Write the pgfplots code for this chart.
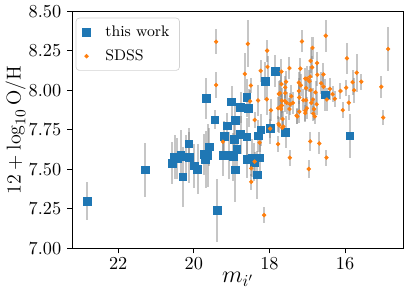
\documentclass[border=0pt]{standalone}
\usepackage{pgfplots}
\usepackage{pgfplotstable}
\pgfplotsset{compat=1.18}
\definecolor{tabblue}{HTML}{1F77B4}
\definecolor{taborange}{HTML}{FF7F0E}
\pgfplotstableread{
x y e
22.82 7.297 0.12
21.29 7.496 0.17
20.57 7.540 0.13
20.51 7.576 0.14
20.44 7.566 0.13
20.34 7.592 0.16
20.29 7.453 0.19
20.20 7.579 0.14
20.13 7.662 0.10
20.12 7.574 0.16
19.99 7.523 0.14
19.90 7.502 0.16
19.73 7.596 0.13
19.69 7.563 0.18
19.63 7.587 0.20
19.59 7.643 0.12
19.67 7.951 0.13
19.44 7.813 0.06
19.38 7.239 0.20
19.22 7.587 0.13
19.20 7.707 0.10
19.11 7.776 0.08
19.07 7.587 0.15
19.00 7.928 0.10
18.93 7.690 0.10
18.95 7.579 0.15
18.90 7.810 0.10
18.90 7.496 0.20
18.86 7.626 0.12
18.76 7.891 0.10
18.76 7.720 0.12
18.60 7.954 0.12
18.60 7.706 0.12
18.55 7.887 0.12
18.58 7.562 0.12
18.46 7.571 0.12
18.40 7.545 0.12
18.25 7.572 0.10
18.32 7.465 0.15
18.30 7.712 0.10
18.23 7.750 0.10
18.11 8.058 0.12
17.98 7.760 0.10
17.85 8.121 0.10
17.57 7.736 0.10
16.52 7.972 0.10
15.87 7.713 0.14
}\thiswork
\pgfplotstableread{
x y e
19.41 8.308 0.08
19.41 8.034 0.08
18.57 8.295 0.15
18.65 8.104 0.13
18.49 8.031 0.05
18.06 8.252 0.07
18.05 8.149 0.07
18.23 8.124 0.07
18.07 7.944 0.10
17.96 7.874 0.07
18.39 7.813 0.05
18.30 7.936 0.10
18.51 7.931 0.07
17.68 8.119 0.08
17.68 8.040 0.08
17.72 7.983 0.08
17.67 7.935 0.08
17.70 7.899 0.08
17.56 8.055 0.07
17.58 8.019 0.07
17.58 7.983 0.07
17.65 7.819 0.05
17.74 7.779 0.05
17.47 8.141 0.07
17.42 7.963 0.07
17.38 7.921 0.07
17.47 7.882 0.07
17.14 8.310 0.07
17.18 8.138 0.07
17.22 7.996 0.08
17.21 7.955 0.08
17.21 7.865 0.07
17.26 7.835 0.05
17.00 8.074 0.08
16.94 8.058 0.07
16.92 8.087 0.07
16.86 8.269 0.07
16.91 8.187 0.08
16.74 8.173 0.07
16.87 8.146 0.07
16.73 8.099 0.07
16.78 7.988 0.07
16.85 7.942 0.07
17.03 7.938 0.08
17.01 7.887 0.07
17.05 7.871 0.07
16.82 7.882 0.07
16.80 7.835 0.05
16.75 7.912 0.07
16.57 8.101 0.07
16.63 8.045 0.07
16.57 8.023 0.07
16.51 8.346 0.10
16.48 7.942 0.07
16.33 7.976 0.05
16.27 7.947 0.05
16.12 7.996 0.05
15.97 8.017 0.05
15.90 7.922 0.05
16.06 7.875 0.05
15.95 8.203 0.10
15.69 8.112 0.12
15.80 8.052 0.08
15.57 8.055 0.05
15.76 8.001 0.08
15.04 8.023 0.07
14.86 8.262 0.14
14.99 7.828 0.05
17.75 7.978 0.08
17.54 7.921 0.07
17.45 7.912 0.07
17.22 8.049 0.07
17.17 8.032 0.07
17.03 8.015 0.07
17.10 7.938 0.07
17.05 8.074 0.07
16.91 8.002 0.07
16.89 7.921 0.07
17.59 7.933 0.07
17.67 7.904 0.07
17.77 7.887 0.07
17.69 7.882 0.07
17.76 7.788 0.05
17.63 7.771 0.05
17.28 7.840 0.05
17.05 7.856 0.05
16.84 7.853 0.05
16.40 8.010 0.07
19.23 7.675 0.06
18.26 7.669 0.06
18.39 7.549 0.06
18.48 7.506 0.05
18.48 7.421 0.05
17.98 7.758 0.06
17.66 7.763 0.05
17.77 7.660 0.05
16.92 7.677 0.06
16.68 7.664 0.07
17.46 7.574 0.05
16.49 7.574 0.05
16.96 7.502 0.06
18.14 7.210 0.05
}\sdss
\begin{document}
\begin{tikzpicture}
\begin{axis}[
  scale only axis,
  width=199pt, height=142pt,
  x dir=reverse,
  xmin=14.44, xmax=23.22,
  ymin=7, ymax=8.5,
  xtick={16,18,20,22},
  ytick={7,7.25,7.5,7.75,8,8.25,8.5},
  yticklabel style={/pgf/number format/.cd,fixed,fixed zerofill,precision=2},
  tick align=outside,
  xtick pos=bottom, ytick pos=left,
  major tick length=3pt,
  tick style={black, line width=0.5pt},
  axis line style={line width=0.6pt},
  tick label style={font=\fontsize{11}{13}\selectfont},
  xticklabel style={yshift=1pt},
  xlabel={$m_{i'}$},
  ylabel={$12+\log_{10}\mathrm{O/H}$},
  ylabel style={font=\fontsize{13.2}{16}\selectfont, yshift=-5pt},
  xlabel style={font=\fontsize{14.4}{17}\selectfont, yshift=5pt},
  legend style={at={(0.012,0.972)}, anchor=north west, draw=gray!35, rounded corners=2pt,
    font=\fontsize{9.2}{12}\selectfont, row sep=2.5pt, inner xsep=4pt, inner ysep=2.5pt,
    outer sep=0pt, /tikz/every odd column/.append style={column sep=7pt}},
  legend cell align=left,
  error bars/error bar style={line width=1.2pt, color=gray, opacity=0.45},
]
\addplot[draw=none, mark=none, forget plot,
  error bars/.cd, y dir=both, y explicit, error mark=none]
  table[x=x, y=y, y error=e] {\thiswork};
\addplot[only marks, mark=square*, mark size=2.3pt, color=tabblue]
  table[x=x, y=y] {\thiswork};
\addlegendentry{this work}
\addplot[draw=none, mark=none, forget plot,
  error bars/.cd, y dir=both, y explicit, error mark=none]
  table[x=x, y=y, y error=e] {\sdss};
\addplot[only marks, mark=*, mark size=1.1pt, color=taborange]
  table[x=x, y=y] {\sdss};
\addlegendentry{SDSS}
\end{axis}
\path ([xshift=6.6pt]current axis.east);
\end{tikzpicture}
\end{document}
